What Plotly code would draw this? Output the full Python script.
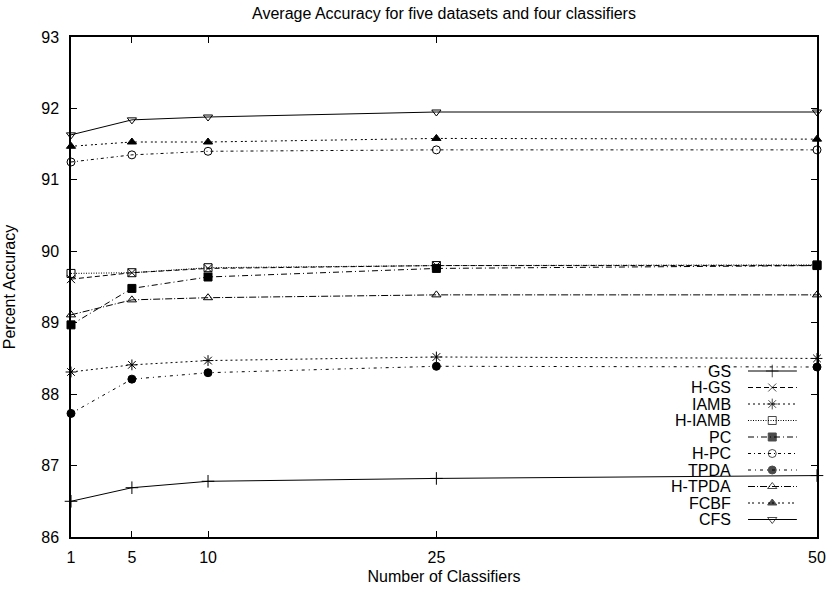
import plotly.graph_objects as go

x_vals = [1, 5, 10, 25, 50]
series_names = ["GS", "H-GS", "IAMB", "H-IAMB", "PC", "H-PC", "TPDA", "H-TPDA", "FCBF", "CFS"]
gs = [86.50, 86.69, 86.78, 86.82, 86.86]
h_gs = [89.61, 89.70, 89.76, 89.80, 89.80]
iamb = [88.31, 88.41, 88.47, 88.52, 88.50]
h_iamb = [89.69, 89.70, 89.77, 89.80, 89.81]
pc = [88.97, 89.48, 89.64, 89.76, 89.80]
h_pc = [91.25, 91.35, 91.40, 91.42, 91.42]
tpda = [87.73, 88.21, 88.30, 88.39, 88.38]
h_tpda = [89.11, 89.32, 89.35, 89.39, 89.39]
fcbf = [91.47, 91.53, 91.53, 91.58, 91.57]
cfs = [91.63, 91.84, 91.88, 91.95, 91.95]
x_ticks = [1, 5, 10, 25, 50]
y_ticks = [86, 87, 88, 89, 90, 91, 92, 93]

data = [gs, h_gs, iamb, h_iamb, pc, h_pc, tpda, h_tpda, fcbf, cfs]
dashes = ["solid", "5px,3px", "2px,3px", "1px,1.5px", "6px,3px,1px,3px",
          "3px,3px,1px,3px", "3px,4px,1px,4px", "7px,2px,1px,2px", "2px,2px,2px,4px", "solid"]
symbols = ["cross-thin-open", "x-thin-open", "asterisk-open", "square-open", "square",
           "circle-open", "circle", "triangle-up-open", "triangle-up", "triangle-down-open"]
sizes = [9, 8, 9, 8, 8, 8, 8, 8, 8, 8]

FONT = "Liberation Sans, Arial, Helvetica, sans-serif"
fig = go.Figure()
for name, ys, d, s, sz in zip(series_names, data, dashes, symbols, sizes):
    fig.add_trace(go.Scatter(
        x=x_vals, y=ys, name=name, mode="lines+markers",
        line=dict(color="black", width=1, dash=d),
        marker=dict(symbol=s, size=sz, color="black", line=dict(color="black", width=1)),
        showlegend=False, cliponaxis=False))

# Custom gnuplot-style key (samples drawn on an overlay 0-1 axis)
key_x = [0.9075, 0.94, 0.973]
key_top = 0.332
key_step = 0.033
for i, (name, d, s, sz) in enumerate(zip(series_names, dashes, symbols, sizes)):
    ky = key_top - i * key_step
    fig.add_trace(go.Scatter(
        x=key_x, y=[ky] * 3, xaxis="x2", yaxis="y2", mode="lines+markers",
        line=dict(color="black", width=1, dash=d),
        marker=dict(symbol=s, size=[0, sz, 0], color="black", line=dict(color="black", width=1)),
        showlegend=False, hoverinfo="skip"))
    fig.add_annotation(x=0.887, y=ky, xref="x2", yref="y2", text=name, showarrow=False,
                       xanchor="right", yanchor="middle",
                       font=dict(family=FONT, size=16, color="black"))

axis_common = dict(showline=True, linecolor="black", linewidth=1.5, mirror="ticks",
                   ticks="inside", ticklen=6, tickwidth=1, tickcolor="black",
                   showgrid=False, zeroline=False, automargin=False,
                   tickfont=dict(family=FONT, size=16, color="black"))
fig.update_layout(
    width=830, height=593,
    margin=dict(l=71, r=13, t=37, b=56, autoexpand=False),
    paper_bgcolor="white", plot_bgcolor="white",
    title=dict(text="Average Accuracy for five datasets and four classifiers",
               x=(71 + 817) / 2 / 830, xanchor="center", y=1 - 13 / 593, yanchor="middle",
               font=dict(family=FONT, size=16, color="black")),
    xaxis=dict(range=[1, 50], tickvals=x_ticks, ticktext=[str(v) for v in x_ticks],
               title=dict(text="Number of Classifiers", standoff=6,
                          font=dict(family=FONT, size=16, color="black")),
               ticklabelstandoff=5, **axis_common),
    yaxis=dict(range=[86, 93], tickvals=y_ticks, ticktext=[str(v) for v in y_ticks],
               title=dict(text="Percent Accuracy", standoff=22,
                          font=dict(family=FONT, size=16, color="black")),
               ticklabelstandoff=7, **axis_common),
    xaxis2=dict(range=[0, 1], overlaying="x", visible=False, fixedrange=True),
    yaxis2=dict(range=[0, 1], overlaying="y", visible=False, fixedrange=True),
)
fig.write_html("out.html")
